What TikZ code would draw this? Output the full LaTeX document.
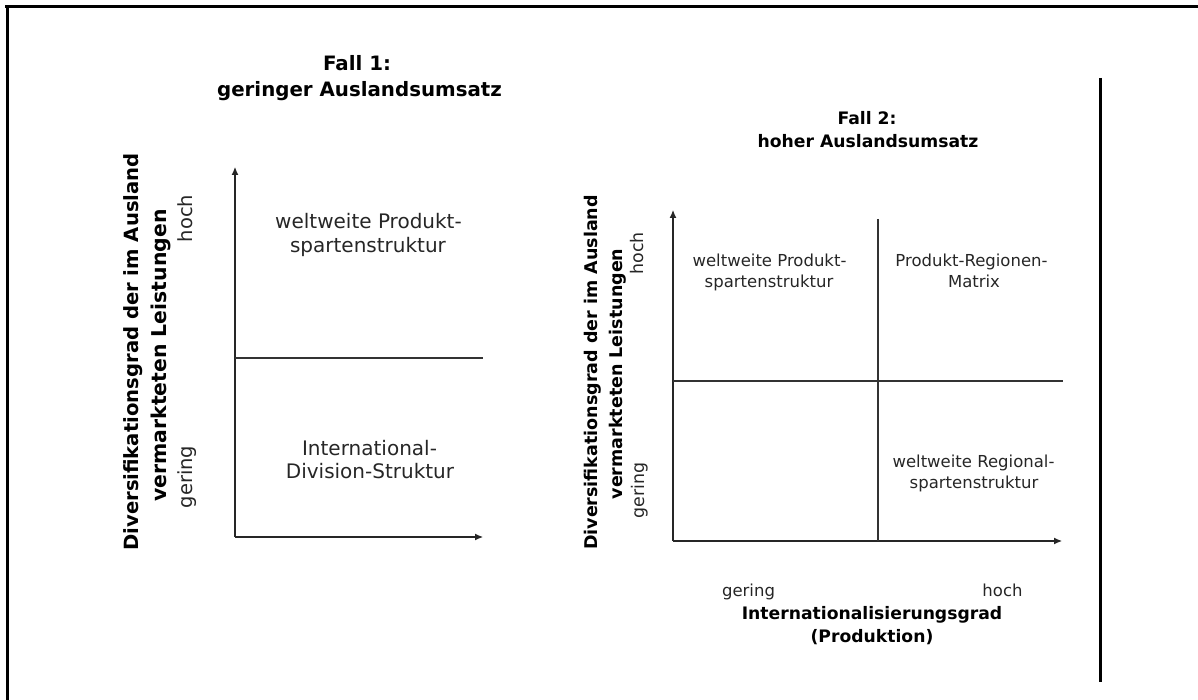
\documentclass[tikz,border=0pt]{standalone}
\usepackage{fontspec}
\setmainfont{DejaVu Sans}
\usetikzlibrary{arrows.meta}
\begin{document}
\begin{tikzpicture}[x=1pt,y=-1pt,
  frame/.style={line width=3pt,black},
  axis/.style={line width=1.1pt,black!85,-{Latex[length=8pt,width=7pt]}},
  divider/.style={line width=1.1pt,black!80},
  txt/.style={anchor=base,inner sep=0pt},
  big/.style={txt,font=\fontsize{20}{24}\selectfont,text=black!85},
  small/.style={txt,font=\fontsize{16.5}{20}\selectfont,text=black!85},
  bigbold/.style={txt,font=\fontsize{19.8}{24}\selectfont\bfseries},
  smallbold/.style={txt,font=\fontsize{17.2}{20}\selectfont\bfseries},
  up/.style={rotate=90}]
\useasboundingbox (0,0) rectangle (1198,700);

% outer frame and right-hand rule
\draw[frame] (5,7) -- (1198,7);
\draw[frame] (7,7) -- (7,700);
\draw[frame] (1100,78) -- (1100,682);

% ---------- Fall 1 ----------
\node[bigbold] (t1a) at (357,71) {Fall 1:};
\node[bigbold] (t1b) at (359.5,97) {geringer Auslandsumsatz};

\coordinate (o1) at (235,537);
\coordinate (y1) at (235,167);
\coordinate (x1) at (483,537);
\coordinate (m1l) at (235,358);
\coordinate (m1r) at (483,358);
\draw[axis] (o1) -- (y1);
\draw[axis] (o1) -- (x1);
\draw[divider] (m1l) -- (m1r);

\node[big] (c1a1) at (368.5,229) {weltweite Produkt-};
\node[big] (c1a2) at (368,253) {spartenstruktur};
\node[big] (c1b1) at (369.5,455) {International-};
\node[big] (c1b2) at (370,478) {Division-Struktur};

\node[bigbold,up,font=\fontsize{19.6}{24}\selectfont\bfseries] (d1a) at (138,352) {Diversifikationsgrad der im Ausland};
\node[bigbold,up,font=\fontsize{20.4}{24}\selectfont\bfseries] (d1b) at (166,355.5) {vermarkteten Leistungen};
\node[big,up,font=\fontsize{19.5}{24}\selectfont] (h1) at (192,218.5) {hoch};
\node[big,up,font=\fontsize{19.5}{24}\selectfont] (g1) at (192,477) {gering};

% ---------- Fall 2 ----------
\node[smallbold] (t2a) at (867,125) {Fall 2:};
\node[smallbold] (t2b) at (868,148) {hoher Auslandsumsatz};

\coordinate (o2) at (673,541);
\coordinate (y2) at (673,210);
\coordinate (x2) at (1062,541);
\coordinate (m2l) at (673,381);
\coordinate (m2r) at (1063,381);
\coordinate (v2t) at (878,219);
\coordinate (v2b) at (878,541);
\draw[axis] (o2) -- (y2);
\draw[axis] (o2) -- (x2);
\draw[divider] (m2l) -- (m2r);
\draw[divider] (v2t) -- (v2b);

\node[small] (c2a1) at (769.5,267) {weltweite Produkt-};
\node[small] (c2a2) at (769,288) {spartenstruktur};
\node[small] (c2b1) at (971.5,267) {Produkt-Regionen-};
\node[small] (c2b2) at (974,288) {Matrix};
\node[small] (c2c1) at (973.5,467) {weltweite Regional-};
\node[small] (c2c2) at (974,488) {spartenstruktur};

\node[smallbold,up,font=\fontsize{17.5}{20}\selectfont\bfseries] (d2a) at (597,372.5) {Diversifikationsgrad der im Ausland};
\node[smallbold,up,font=\fontsize{17.5}{20}\selectfont\bfseries] (d2b) at (622,374) {vermarkteten Leistungen};
\node[small,up,font=\fontsize{17.4}{20}\selectfont] (h2) at (643,253.5) {hoch};
\node[small,up,font=\fontsize{17.4}{20}\selectfont] (g2) at (644,490.5) {gering};

\node[small] (gx) at (748.5,596) {gering};
\node[small] (hx) at (1002.5,596) {hoch};
\node[smallbold] (xl1) at (872,619) {Internationalisierungsgrad};
\node[smallbold] (xl2) at (872,642) {(Produktion)};
\end{tikzpicture}
\end{document}
